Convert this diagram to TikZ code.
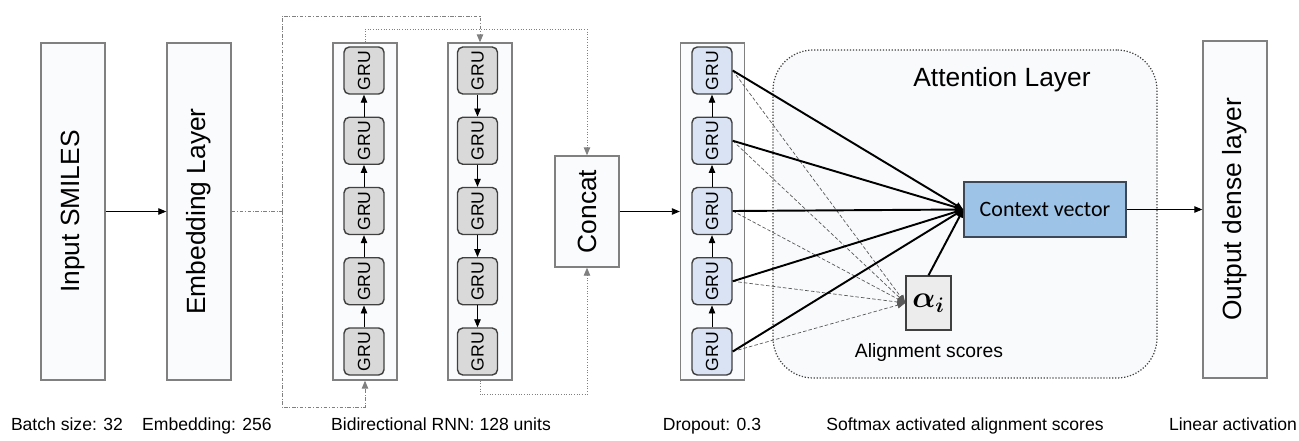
\documentclass[tikz,border=0pt]{standalone}
\usepackage{fontspec}
\setmainfont{Liberation Sans}
\newfontfamily\calibrifont{Carlito}
\usepackage{amsmath,bm}
\usepackage{graphicx}
\usetikzlibrary{arrows.meta}
\definecolor{boxfill}{RGB}{250,251,253}
\definecolor{boxline}{RGB}{128,128,128}
\definecolor{grugray}{RGB}{217,217,217}
\definecolor{grublue}{RGB}{218,227,243}
\definecolor{gruline}{RGB}{64,64,64}
\definecolor{ctxfill}{RGB}{157,195,230}
\definecolor{ctxline}{RGB}{60,72,88}
\definecolor{attfill}{RGB}{249,250,252}
\definecolor{alphafill}{RGB}{236,236,236}
\begin{document}
\begin{tikzpicture}[x=0.02cm,y=-0.02cm,
  >={Triangle[length=1.6mm,width=1.3mm]},
  layer/.style={draw=boxline,fill=boxfill,line width=0.8pt,minimum width=1.28cm,minimum height=6.74cm,inner sep=0pt,font=\fontsize{15}{18}\selectfont},
  gru/.style={draw=gruline,line width=0.8pt,rounded corners=3pt,minimum width=0.8cm,minimum height=0.94cm,inner sep=0pt,font=\fontsize{10}{12}\selectfont},
  link/.style={->,line width=0.5pt},
  loopline/.style={draw=gray,line width=0.5pt,dash pattern=on 2pt off 1pt on 0.5pt off 1pt},
  dotline/.style={draw=gray,line width=0.5pt,densely dotted},
  attlink/.style={->,line width=1.1pt},
  scorelink/.style={->,draw=gray!70!black,line width=0.4pt,dash pattern=on 2pt off 1.2pt},
  note/.style={anchor=base,font=\fontsize{10}{12}\selectfont}]
  \useasboundingbox (0,0) rectangle (1299,440);

  \node[layer] (inp) at (73,211.5) {\rotatebox{90}{Input SMILES}};
  \node[layer] (emb) at (199,211.5) {\rotatebox{90}{Embedding Layer}};
  \node[layer] (fcol) at (365,211.5) {};
  \node[layer] (bcol) at (480,211.5) {};
  \node[layer,minimum height=2.22cm] (concat) at (587,211.5) {\rotatebox{90}{Concat}};
  \node[layer] (dcol) at (712.5,211.5) {};

  % attention block
  \node[draw=black!75,densely dotted,line width=0.7pt,fill=attfill,rounded corners=0.8cm,minimum width=7.68cm,minimum height=6.56cm] (att) at (965,214) {};
  \node[font=\fontsize{15}{18}\selectfont] (atttitle) at (1002,80) {Attention Layer};
  \node[draw=ctxline,line width=0.8pt,fill=ctxfill,minimum width=3.24cm,minimum height=1.1cm,font=\calibrifont\fontsize{12.5}{14}\selectfont] (ctx) at (1045,209.5) {Context vector};
  \node[draw=gruline,line width=0.8pt,fill=alphafill,minimum width=0.9cm,minimum height=1.08cm,font=\LARGE] (alpha) at (928.5,303) {$\boldsymbol{\alpha_i}$};
  \node[font=\fontsize{11}{13}\selectfont] (align) at (929,352) {Alignment scores};
  \node[layer] (out) at (1235,209.5) {\rotatebox{90}{Output dense layer}};

  \foreach \k [evaluate=\k as \yy using 70.5+70.25*(\k-1)] in {1,...,5} {
    \node[gru,fill=grugray] (f\k) at (364,\yy) {\rotatebox{90}{GRU}};
    \node[gru,fill=grugray] (b\k) at (477.5,\yy) {\rotatebox{90}{GRU}};
    \node[gru,fill=grublue] (d\k) at (712,\yy) {\rotatebox{90}{GRU}};
  }
  \foreach \k [evaluate=\k as \j using int(\k+1)] in {1,...,4} {
    \draw[link] (f\j) -- (f\k);
    \draw[link] (b\k) -- (b\j);
    \draw[link] (d\j) -- (d\k);
  }

  \draw[link] (inp) -- (emb);
  \coordinate (split) at (282,211.5);
  \draw[loopline] (emb) -- (split);
  \draw[loopline,->] (split) -- (282,16) -| (bcol.north);
  \draw[loopline,->] (split) -- (282,407) -| (fcol.south);
  \draw[dotline,->] (fcol.north) -- ++(0,-13) -| (concat.north);
  \draw[dotline,->] (bcol.south) -- ++(0,14) -| (concat.south);
  \draw[link] (concat) -- (dcol);

  \foreach \k in {1,...,5} {
    \draw[scorelink] (d\k.east) -- (alpha.west);
    \draw[attlink] (d\k.east) -- (ctx.west);
  }
  \draw[attlink] (alpha.north) -- (ctx.west);
  \draw[link] (ctx) -- (out);

  \node[note] (bs) at (67,430) {Batch size: 32};
  \node[note] (embd) at (207,430) {Embedding: 256};
  \node[note] (rnn) at (441,430) {Bidirectional RNN: 128 units};
  \node[note] (drop) at (712,430) {Dropout: 0.3};
  \node[note] (soft) at (965,430) {Softmax activated alignment scores};
  \node[note] (lin) at (1233,430) {Linear activation};
\end{tikzpicture}
\end{document}
